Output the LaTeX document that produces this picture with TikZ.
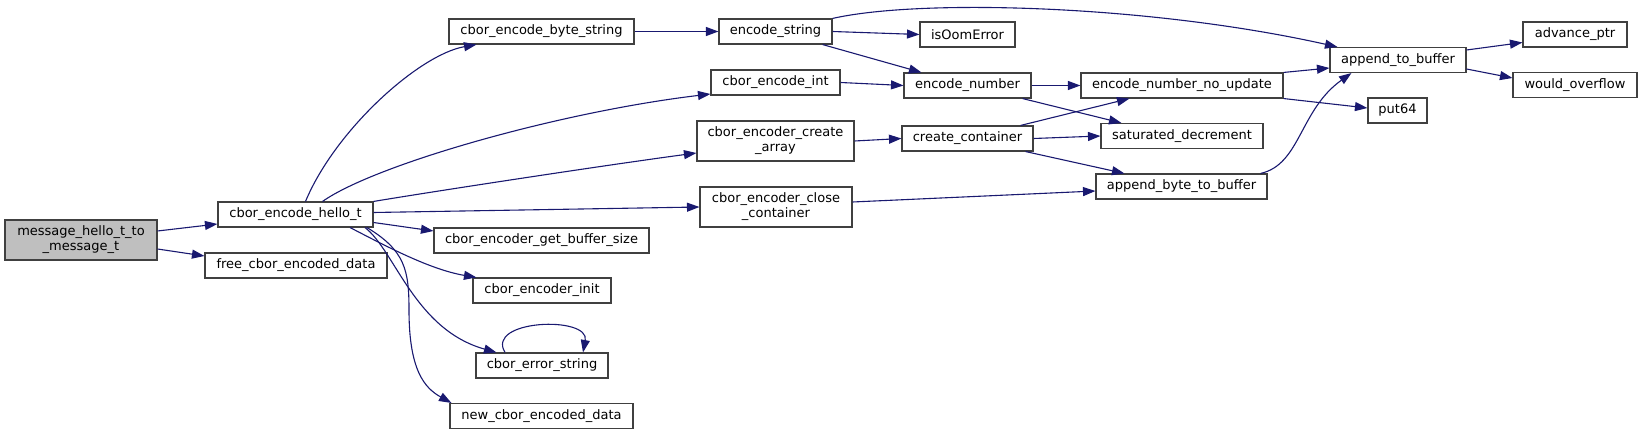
\documentclass[tikz,border=0pt]{standalone}
\usepackage{fontspec}
\setmainfont{DejaVu Sans}
\usepackage{tikz}
\usetikzlibrary{arrows.meta}
\definecolor{edgeblue}{HTML}{191970}
\definecolor{nodegray}{HTML}{BFBFBF}
\tikzset{
    fnbox/.style={
        draw=black!75,
        line width=1.1pt,
        fill=white,
        minimum height=25pt,
        inner sep=0pt,
        align=center,
        font=\fontsize{13}{15}\selectfont
    },
    % two line boxes
    twoline/.style={minimum height=40pt},
    callarrow/.style={
        line width=1.1pt,
        edgeblue,
        ->,
        >={Triangle[length=12.5pt, width=9pt]}
    }
}
\begin{document}
\begin{tikzpicture}[x=1pt,y=-1pt]
  \useasboundingbox (0,0) rectangle (1643,435);

  % column 1 and 2
  \node[fnbox,twoline,fill=nodegray,minimum width=152pt] (msg) at (81,240) {message\_hello\_t\_to\\\_message\_t};
  \node[fnbox,minimum width=155pt] (hello) at (295.5,214.5) {cbor\_encode\_hello\_t};
  \node[fnbox,minimum width=182pt] (free) at (296,265.5) {free\_cbor\_encoded\_data};

  % column 3
  \node[fnbox,minimum width=185pt] (bytestr) at (541.5,31.5) {cbor\_encode\_byte\_string};
  \node[fnbox,minimum width=215pt] (getbuf) at (541.5,240.5) {cbor\_encoder\_get\_buffer\_size};
  \node[fnbox,minimum width=138pt] (init) at (542,290.5) {cbor\_encoder\_init};
  \node[fnbox,minimum width=132pt] (errstr) at (542,365.5) {cbor\_error\_string};
  \node[fnbox,minimum width=183pt] (newdata) at (541.5,416) {new\_cbor\_encoded\_data};

  % column 4
  \node[fnbox,minimum width=113pt] (encstr) at (775.5,31.5) {encode\_string};
  \node[fnbox,minimum width=129pt] (encint) at (775.5,82.5) {cbor\_encode\_int};
  \node[fnbox,twoline,minimum width=157pt] (createarr) at (775.5,141) {cbor\_encoder\_create\\\_array};
  \node[fnbox,twoline,minimum width=152pt] (closecont) at (776,207) {cbor\_encoder\_close\\\_container};

  % column 5
  \node[fnbox,minimum width=95pt] (oom) at (967.5,34.5) {isOomError};
  \node[fnbox,minimum width=127pt] (encnum) at (967.5,85.5) {encode\_number};
  \node[fnbox,minimum width=131pt] (createcont) at (967.5,138.5) {create\_container};

  % column 6
  \node[fnbox,minimum width=202pt] (encnonu) at (1182,85.5) {encode\_number\_no\_update};
  \node[fnbox,minimum width=162pt] (satdec) at (1182,136) {saturated\_decrement};
  \node[fnbox,minimum width=171pt] (appbyte) at (1181.5,186.5) {append\_byte\_to\_buffer};

  % column 7 and 8
  \node[fnbox,minimum width=136pt] (append) at (1398,60) {append\_to\_buffer};
  \node[fnbox,minimum width=59pt] (put64) at (1397.5,110.5) {put64};
  \node[fnbox,minimum width=104pt] (advptr) at (1575,34.5) {advance\_ptr};
  \node[fnbox,minimum width=124pt] (wouldov) at (1575,85) {would\_overflow};

  % calls from message_hello_t_to_message_t
  \draw[callarrow] ([yshift=9pt]msg.east) -- ([yshift=-9.5pt]hello.west);
  \draw[callarrow] ([yshift=-9pt]msg.east) -- ([yshift=9.5pt]free.west);

  % calls from cbor_encode_hello_t
  \draw[callarrow] ([xshift=10pt]hello.north) .. controls +(30,-72) and +(-57,10) .. ([xshift=-65pt]bytestr.south);
  \draw[callarrow] ([xshift=27pt]hello.north) .. controls +(52.5,-37) and +(-151,18) .. ([yshift=-11.5pt]encint.west);
  \draw[callarrow] (hello.north east) .. controls +(60,-10) and +(-90,12) .. ([yshift=-12pt]createarr.west);
  \draw[callarrow] ([yshift=2pt]hello.east) -- (closecont.west);
  \draw[callarrow] ([yshift=-8pt]hello.east) -- ([yshift=9.5pt]getbuf.west);
  \draw[callarrow] ([xshift=54.5pt]hello.south) .. controls +(35,18) and +(-47,-8) .. ([xshift=4pt]init.north west);
  \draw[callarrow] ([xshift=69.5pt]hello.south) .. controls +(30,23) and +(-82,-23) .. ([xshift=21pt]errstr.north west);
  \draw[callarrow] ([xshift=71.5pt]hello.south) .. controls +(38,23) and +(0,-40) .. (409,310)
    .. controls +(0,60) and +(-27,-15) .. ([xshift=2pt]newdata.north west);
  \draw[callarrow] ([xshift=-37pt]errstr.north) .. controls +(-20,-33) and +(7,-37) .. ([xshift=41pt]errstr.north);

  % second level
  \draw[callarrow] (bytestr.east) -- (encstr.west);
  \draw[callarrow] (encstr.north east) .. controls +(88,-20) and +(-188,-42) .. ([xshift=8pt]append.north west);
  \draw[callarrow] (encstr.east) -- (oom.west);
  \draw[callarrow] ([xshift=-10pt]encstr.south east) -- ([xshift=18pt]encnum.north west);
  \draw[callarrow] (encint.east) -- (encnum.west);
  \draw[callarrow] (createarr.east) -- (createcont.west);
  \draw[callarrow] ([yshift=5pt]closecont.east) -- ([yshift=-4.5pt]appbyte.west);

  % third level
  \draw[callarrow] (encnum.east) -- (encnonu.west);
  \draw[callarrow] ([xshift=-9pt]encnum.south east) -- ([xshift=21pt]satdec.north west);
  \draw[callarrow] ([xshift=-13pt]createcont.north east) -- ([xshift=49pt]encnonu.south west);
  \draw[callarrow] (createcont.east) -- (satdec.west);
  \draw[callarrow] ([xshift=-8pt]createcont.south east) -- ([xshift=29pt]appbyte.north west);

  % fourth level
  \draw[callarrow] (encnonu.north east) -- ([yshift=-8pt]append.west);
  \draw[callarrow] (encnonu.south east) -- ([yshift=2.5pt]put64.west);
  \draw[callarrow] ([xshift=-7pt]appbyte.north east) .. controls +(40,-9) and +(-52,37) .. ([xshift=22pt]append.south west);
  \draw[callarrow] ([yshift=10pt]append.east) -- ([yshift=-8pt]advptr.west);
  \draw[callarrow] ([yshift=-9pt]append.east) -- ([yshift=7pt]wouldov.west);
\end{tikzpicture}
\end{document}
